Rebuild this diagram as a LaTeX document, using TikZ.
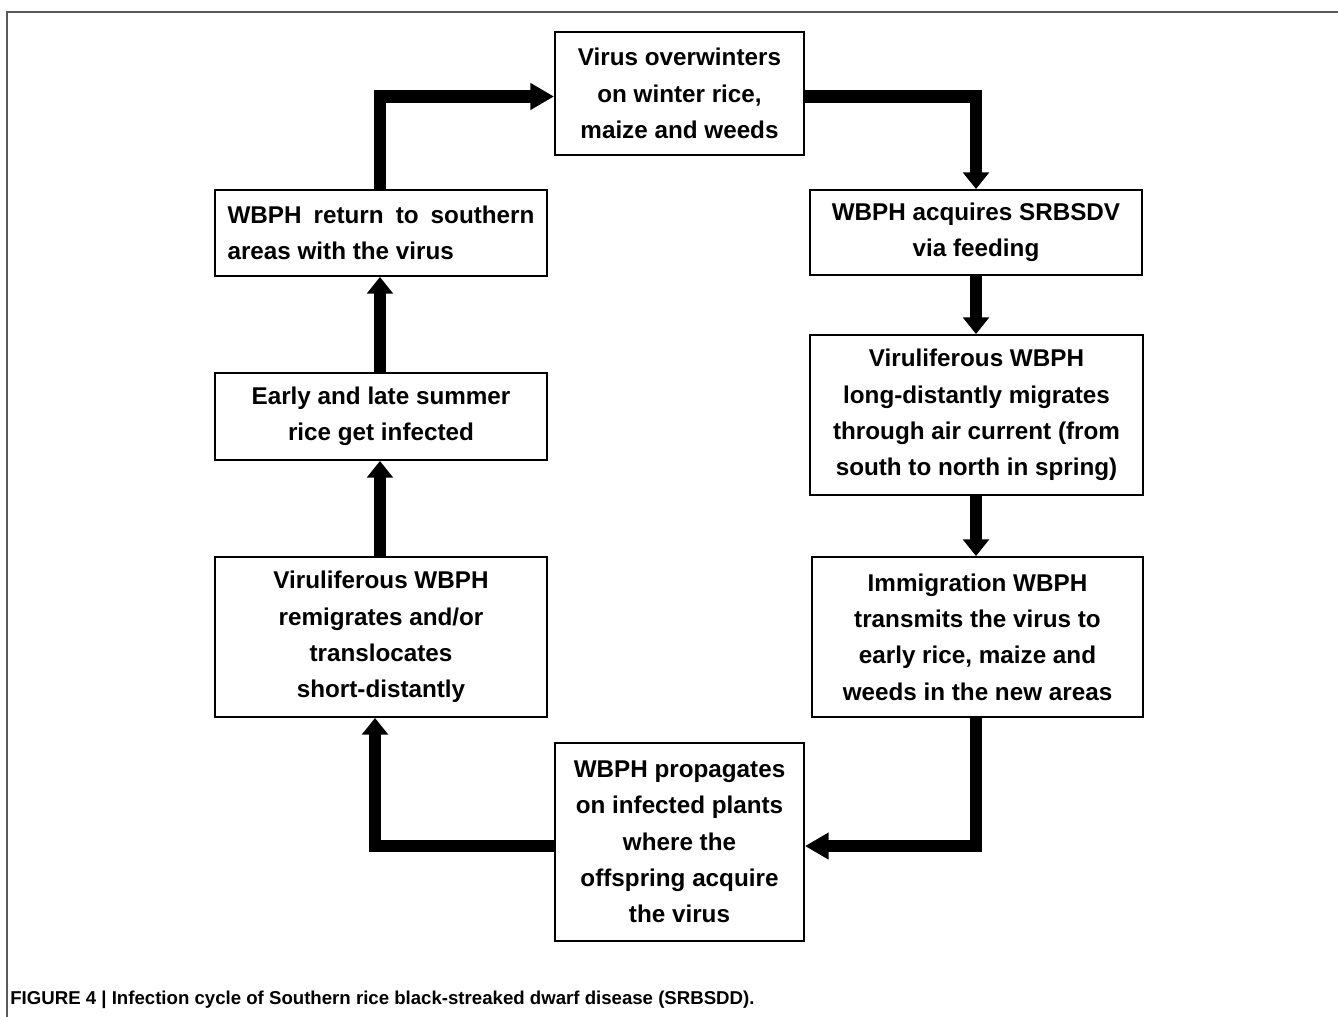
\documentclass[tikz,border=0pt]{standalone}
\usepackage{fontspec}
\setmainfont{Liberation Sans}
\usetikzlibrary{arrows.meta}
\begin{document}
\begin{tikzpicture}[x=0.02cm,y=-0.02cm,
  stepbox/.style={draw=black, line width=1.1pt, fill=white, inner sep=0pt, align=center,
    font=\fontsize{13.8}{20.7}\selectfont\bfseries},
  harrow/.style={line width=7pt, line join=miter, -{Triangle[width=14.5pt,length=13.5pt]}},
  varrow/.style={line width=7pt, line join=miter, -{Triangle[width=14.5pt,length=9.5pt]}}]
\useasboundingbox (0,0) rectangle (1338,1017);
% frame
\draw[line width=1.1pt, draw=black!65] (7,1030) -- (7,12) -- (1350,12);
% boxes
\node[stepbox, minimum width=4.98cm, minimum height=2.46cm] (top) at (679.5,93.5)
  {Virus overwinters\\on winter rice,\\maize and weeds};
\node[stepbox, minimum width=6.64cm, minimum height=1.70cm] (acq) at (976,232.5)
  {WBPH acquires SRBSDV\\via feeding};
\node[stepbox, minimum width=6.66cm, minimum height=3.20cm] (mig) at (976.5,415)
  {Viruliferous WBPH\\long-distantly migrates\\through air current (from\\south to north in spring)};
\node[stepbox, minimum width=6.62cm, minimum height=3.20cm] (imm) at (977.5,637)
  {Immigration WBPH\\transmits the virus to\\early rice, maize and\\weeds in the new areas};
\node[stepbox, minimum width=4.98cm, minimum height=3.96cm] (prop) at (679.5,842)
  {WBPH propagates\\on infected plants\\where the\\offspring acquire\\the virus};
\node[stepbox, minimum width=6.64cm, minimum height=3.20cm] (remig) at (381,637)
  {Viruliferous WBPH\\remigrates and/or\\translocates\\short-distantly};
\node[stepbox, minimum width=6.64cm, minimum height=1.74cm] (early) at (381,416.5)
  {Early and late summer\\rice get infected};
\node[stepbox, minimum width=6.64cm, minimum height=1.72cm, align=left] (ret) at (381,233)
  {\makebox[6.14cm][s]{WBPH return to southern}\\areas with the virus};
% connectors
\draw[harrow] ([xshift=-0.6pt]ret.north) |- ([yshift=-1.7pt]top.west);
\draw[varrow] ([yshift=-1.7pt]top.east) -| (acq.north);
\draw[varrow] (acq.south) -- (acq.south |- mig.north);
\draw[varrow] (acq.south |- mig.south) -- (acq.south |- imm.north);
\draw[harrow] (acq.south |- imm.south) |- ([yshift=-2.3pt]prop.east);
\draw[varrow] ([yshift=-2.3pt]prop.west) -| ([xshift=-3.4pt]remig.south);
\draw[varrow] ([xshift=-0.6pt]remig.north) -- ([xshift=-0.6pt]early.south);
\draw[varrow] ([xshift=-0.6pt]early.north) -- ([xshift=-0.6pt]ret.south);
% caption
\node[anchor=west, inner sep=0pt, font=\fontsize{10.6}{12}\selectfont\bfseries] (cap) at (10,1000)
  {FIGURE 4 | Infection cycle of Southern rice black-streaked dwarf disease (SRBSDD).};
\end{tikzpicture}
\end{document}
